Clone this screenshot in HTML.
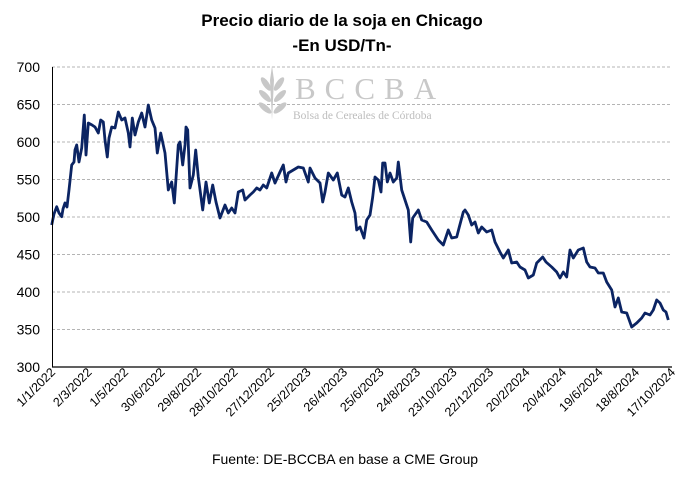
<!DOCTYPE html>
<html><head><meta charset="utf-8"><style>
html,body{margin:0;padding:0;background:#fff;}
svg{display:block;font-family:"Liberation Sans",sans-serif;}
</style></head><body>
<svg width="684" height="494" viewBox="0 0 684 494" xmlns="http://www.w3.org/2000/svg">
<rect width="684" height="494" fill="#fff"/>
<text x="342" y="26" text-anchor="middle" font-size="17" font-weight="bold" fill="#000">Precio diario de la soja en Chicago</text>
<text x="342" y="51" text-anchor="middle" font-size="17" font-weight="bold" fill="#000">-En USD/Tn-</text>
<g stroke="#b4b4b4" stroke-width="1" stroke-dasharray="3,2">
<line x1="52" y1="67" x2="670" y2="67"/><line x1="52" y1="104.5" x2="670" y2="104.5"/>
<line x1="52" y1="142" x2="670" y2="142"/><line x1="52" y1="179.5" x2="670" y2="179.5"/>
<line x1="52" y1="217" x2="670" y2="217"/><line x1="52" y1="254.5" x2="670" y2="254.5"/>
<line x1="52" y1="292" x2="670" y2="292"/><line x1="52" y1="329.5" x2="670" y2="329.5"/>
</g>
<g fill="#c8c8c8">
<path d="M272 66 L274 80 L272 120 L270 80 Z"/>
<ellipse cx="266" cy="84" rx="3" ry="8" transform="rotate(-35 266 84)"/>
<ellipse cx="279" cy="84" rx="3" ry="8" transform="rotate(35 279 84)"/>
<ellipse cx="265" cy="96" rx="3" ry="8" transform="rotate(-45 265 96)"/>
<ellipse cx="280" cy="96" rx="3" ry="8" transform="rotate(45 280 96)"/>
<ellipse cx="265" cy="108" rx="3" ry="8" transform="rotate(-50 265 108)"/>
<ellipse cx="280" cy="108" rx="3" ry="8" transform="rotate(50 280 108)"/>
</g>
<text x="295" y="99" font-family="Liberation Serif,serif" font-size="31" fill="#c8c8c8" letter-spacing="9">BCCBA</text>
<text x="293" y="119" font-family="Liberation Serif,serif" font-size="11.5" fill="#bdbdbd">Bolsa de Cereales de Córdoba</text>
<g font-size="14" fill="#000" text-anchor="end">
<text x="40" y="72">700</text><text x="40" y="109.5">650</text><text x="40" y="147">600</text>
<text x="40" y="184.5">550</text><text x="40" y="222">500</text><text x="40" y="259.5">450</text>
<text x="40" y="297">400</text><text x="40" y="334.5">350</text><text x="40" y="372">300</text>
</g>
<polyline fill="none" stroke="#0b2463" stroke-width="2.8" stroke-linejoin="round" points="
51.7,225 54,214 56.7,206.7 59,213 61.7,216.7 63,209 65,203 67,207 69,190 71.7,165 74,162 75,150 76.7,145 79,162 81.7,148 84.3,115 86,155 88.3,123 92,125 95,127 98.3,133 100.7,120 103.3,122 105,140 107.3,157 109,138 111.7,127 115,128 118.3,112 121.7,120 125,118 128.3,133 130,147 132.3,118 135,135 138.3,122 141.7,113 145,127 148.3,105 151.7,120 155,128 157.3,153 160.7,133 165,153 168.3,190 171.7,182 174.3,203 178.3,145 180,142 182.7,165 185,145 186,127 187.7,130 190,188 193.3,175 195.7,150 198.3,177 202.7,210 206,182 209.3,203 212.7,185 216,202 220,218 225,205 228.3,213 231.7,208 235,213 238.3,192 242.7,190 245,200 250,195 253.3,192 256.7,188 260,190 263.3,185 266.7,188 271.7,173 275,183 280,172 283.3,165 286,182 288.3,173 293.3,170 298.3,167 303.3,168 308.3,182 310,168 315,178 320,183 322.7,202 325,192 328.3,173 333.3,180 337.3,173 341.7,195 345,197 348.3,188 351.7,202 355,213 356.7,230 360,227 364,238 366.7,220 370,215 372.7,197 375,177 378.3,180 381,192 382.7,163 385,163 387.3,182 390,173 393.3,182 396.7,178 398.3,162 401.7,190 405,200 408.3,210 410.7,242 412.7,218 418.3,210 421.7,220 426.7,222 431.7,230 435,235 438.3,240 443.3,245 448.3,230 451.7,238 456.7,237 459.3,227 463.3,212 465,210 468.3,215 471.7,225 475,222 478.3,233 481.7,227 486.7,232 491.7,230 495,242 500,252 503.3,258 508.3,250 511.7,263 516.7,262 520,267 525,270 528.3,278 533.3,275 536.7,263 542.7,257 546,262 551.7,267 556.7,272 560,278 563.3,272 566.7,277 570,250 573.3,258 578.3,250 583.3,248 586.7,262 590,267 595,268 598.3,273 603.3,273 606.7,282 611.7,290 615,307 618.3,298 621.7,312 626.7,313 631.7,327 636.7,323 641.7,318 645,313 650,315 653.3,310 656.7,300 660,303 663.3,310 666,312 668.3,320"/>
<line x1="52.5" y1="67" x2="52.5" y2="367" stroke="#000" stroke-width="1"/>
<line x1="52" y1="367" x2="672" y2="367" stroke="#000" stroke-width="1.2"/>
<g font-size="12.5" fill="#000" text-anchor="end">
<text transform="translate(56,373) rotate(-45)">1/1/2022</text>
<text transform="translate(92.5,373) rotate(-45)">2/3/2022</text>
<text transform="translate(129,373) rotate(-45)">1/5/2022</text>
<text transform="translate(165.5,373) rotate(-45)">30/6/2022</text>
<text transform="translate(202,373) rotate(-45)">29/8/2022</text>
<text transform="translate(238.5,373) rotate(-45)">28/10/2022</text>
<text transform="translate(275,373) rotate(-45)">27/12/2022</text>
<text transform="translate(311.5,373) rotate(-45)">25/2/2023</text>
<text transform="translate(348,373) rotate(-45)">26/4/2023</text>
<text transform="translate(384.5,373) rotate(-45)">25/6/2023</text>
<text transform="translate(421,373) rotate(-45)">24/8/2023</text>
<text transform="translate(457.5,373) rotate(-45)">23/10/2023</text>
<text transform="translate(494,373) rotate(-45)">22/12/2023</text>
<text transform="translate(530.5,373) rotate(-45)">20/2/2024</text>
<text transform="translate(567,373) rotate(-45)">20/4/2024</text>
<text transform="translate(603.5,373) rotate(-45)">19/6/2024</text>
<text transform="translate(640,373) rotate(-45)">18/8/2024</text>
<text transform="translate(676,373) rotate(-45)">17/10/2024</text>
</g>
<text x="345" y="464" text-anchor="middle" font-size="14" fill="#000">Fuente: DE-BCCBA en base a CME Group</text>
</svg>
</body></html>
